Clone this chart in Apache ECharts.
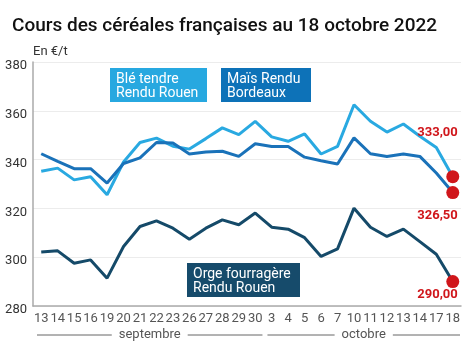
<!DOCTYPE html>
<html><head><meta charset="utf-8">
<script src="https://cdn.jsdelivr.net/npm/echarts@6/dist/echarts.min.js"></script>
<style>html,body{margin:0;padding:0;background:#fff}#c{width:467px;height:349px}</style>
</head><body><div id="c"></div>
<script>
const days = ['13','14','15','16','19','20','21','22','23','26','27','28','29','30','3','4','5','6','7','10','11','12','13','14','17','18'];
const monthNames = ['septembre','octobre'];
const monthStart = [0, 14];
const ble = [335.2,336.5,331.7,333,325.6,339,347,348.8,345.5,344.3,348.6,353,350.2,355.7,349.3,347.5,350.5,342.3,345.4,362.5,355.7,351.3,354.6,349.6,345,333];
const mais = [342.4,339.3,336.3,336.3,330.4,338.4,340.7,347,346.8,342.3,343.1,343.4,341.3,346.5,345.4,345.4,341,339.5,338.2,348.9,342.4,341.3,342.3,341.3,334.5,326.5];
const orge = [302.1,302.6,297.5,298.9,291.4,304.4,312.6,314.9,311.9,307.4,311.9,315.3,313.3,318.1,312.3,311.5,308,300.3,303.4,320.1,312.3,308.5,311.5,306.4,301.2,290];
const yTicks = {min:280, max:380, step:20};
const fmt = v => v.toFixed(2).replace('.', ',');

const RED = '#d0161b';
function withEnd(arr, labelOffset){
  return arr.map((v,i)=> i===arr.length-1 ? {
    value:v, symbol:'circle', symbolSize:13,
    itemStyle:{color:RED},
    label:{show:true, position:'inside', align:'right', verticalAlign:'middle', offset:labelOffset,
      formatter:()=>fmt(v), color:RED, fontWeight:'bold', fontSize:13, fontFamily:'Roboto'}
  } : v);
}

const chart = echarts.init(document.getElementById('c'), null, {renderer:'canvas'});
const lineSeries = (name, arr, color, off) => ({
  name, type:'line', data:withEnd(arr, off), symbol:'none', showSymbol:true,
  lineStyle:{color, width:3}, itemStyle:{color}, silent:true, z: 3,
  emphasis:{disabled:true}, animation:false
});

chart.setOption({
  animation:false,
  title:{text:'Cours des céréales françaises au 18 octobre 2022', left:7, top:12,
    textStyle:{fontFamily:'Roboto', fontSize:19, fontWeight:500, color:'#111'}},
  grid:{left:33, right:6, top:62, bottom:43},
  xAxis:{type:'category', data:days, boundaryGap:true,
    axisLine:{lineStyle:{color:'#aaa', width:1.5}}, axisTick:{show:false},
    axisLabel:{interval:0, color:'#555', fontSize:13, fontFamily:'Roboto', margin:6}},
  yAxis:{type:'value', min:yTicks.min, max:yTicks.max, interval:yTicks.step,
    axisLine:{show:true, lineStyle:{color:'#aaa', width:1.5}}, axisTick:{show:false},
    splitLine:{lineStyle:{color:'#ececec'}},
    axisLabel:{color:'#333', fontSize:13, fontFamily:'Roboto', margin:6, verticalAlign:'top', lineHeight:8}},
  series:[
    lineSeries('Blé tendre Rendu Rouen', ble, '#29a9e1', [5,-44]),
    lineSeries('Maïs Rendu Bordeaux', mais, '#1a72b9', [5,23]),
    lineSeries('Orge fourragère Rendu Rouen', orge, '#154a69', [5,13])
  ]
});

function box(x,y,w,h,color,text){
  return {type:'group', children:[
    {type:'rect', shape:{x, y, width:w, height:h}, style:{fill:color}, z:10},
    {type:'text', x:x+6, y:y+4, z:11, style:{text, fill:'#fff', font:'14px Roboto', lineHeight:14}}
  ]};
}
const g = [
  {type:'text', left:33, top:45, style:{text:'En €/t', fill:'#333', font:'13px Roboto'}},
  box(110,68,97,34,'#27a8e0','Blé tendre\nRendu Rouen'),
  box(221,68,90,34,'#0d72b8','Maïs Rendu\nBordeaux'),
  box(187,263,113,34,'#164b6b','Orge fourragère\nRendu Rouen')
];
const ends = monthStart.concat([days.length]);
const yLine = 335;
for (let m=0;m<monthNames.length;m++){
  const a = chart.convertToPixel({xAxisIndex:0}, ends[m]);
  const b = chart.convertToPixel({xAxisIndex:0}, ends[m+1]-1);
  const half = (chart.convertToPixel({xAxisIndex:0},1)-chart.convertToPixel({xAxisIndex:0},0))/2;
  const x0 = a - half + 4, x1 = b + half - 1;
  g.push({type:'line', shape:{x1:x0, y1:yLine, x2:x1, y2:yLine}, style:{stroke:'#666', lineWidth:1}, z:5});
  g.push({type:'text', x:(x0+x1)/2, y:yLine, z:6, style:{text:monthNames[m], fill:'#555', font:'13px Roboto',
    align:'center', verticalAlign:'middle', backgroundColor:'#fff', padding:[0,7]}});
}
chart.setOption({graphic:g});
</script></body></html>
